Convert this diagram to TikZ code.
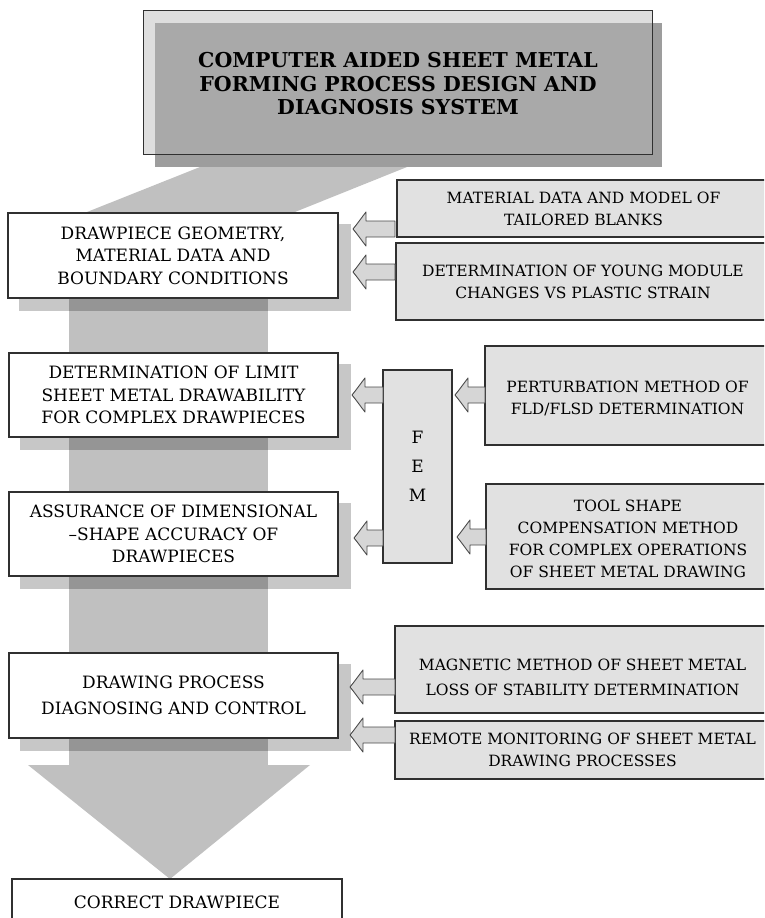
\documentclass[tikz,border=0pt]{standalone}
\usepackage{fontspec}
\setmainfont{DejaVu Serif}
\usetikzlibrary{calc}
\pgfdeclarelayer{back}
\pgfdeclarelayer{shad}
\pgfsetlayers{back,shad,main}
\definecolor{shaftc}{HTML}{C0C0C0}
\definecolor{linec}{HTML}{303030}
\definecolor{rboxc}{HTML}{E1E1E1}
\definecolor{titlelight}{HTML}{DEDEDE}
\definecolor{titleinner}{HTML}{A9A9A9}
\definecolor{titleshad}{HTML}{9D9D9D}
\definecolor{arrowfill}{HTML}{D6D6D6}
\definecolor{arrowline}{HTML}{4A4A4A}
\newcommand\lfnt{\fontsize{17}{22.5}\selectfont}
\newcommand\rfnt{\fontsize{15.5}{22}\selectfont}
\begin{document}
\begin{tikzpicture}[x=1pt,y=-1pt,
  lbox/.style={draw=linec,fill=white,line width=1.2pt,align=center,font=\lfnt,inner sep=0pt},
  rbox/.style={draw=linec,fill=rboxc,line width=1.2pt,align=center,font=\rfnt,inner sep=0pt},
  rtext/.style={align=center,font=\rfnt,inner sep=0pt},
  shadowst/.style={fill=black,opacity=0.22},
  pics/larrow/.style={code={
    \draw[fill=arrowfill,draw=arrowline,line width=0.9pt,line join=round]
      (0,0) .. controls (5,-6) and (9,-12) .. (13,-17) -- (13,-8) -- (#1,-8) -- (#1,8) -- (13,8) -- (13,17)
      .. controls (9,12) and (5,6) .. (0,0) -- cycle;}}]
\useasboundingbox (0,0) rectangle (764,918);
\clip (0,0) rectangle (764,918);

% ---- title block
\node[fill=titlelight,minimum width=508pt,minimum height=143pt,inner sep=0pt] (tb) at (398,82.5) {};
\fill[titleinner] ($(tb.north west)+(11,12)$) rectangle (tb.south east);
\draw[draw=linec,line width=1.2pt] (tb.north west) rectangle (tb.south east);
\node[font=\bfseries\fontsize{20.5}{23.5}\selectfont,align=center] (title) at (398,84)
  {COMPUTER AIDED SHEET METAL\\FORMING PROCESS DESIGN AND\\DIAGNOSIS SYSTEM};

% ---- left boxes
\node[lbox,minimum width=330pt,minimum height=85pt] (b1) at (173,255.5)
  {DRAWPIECE GEOMETRY,\\MATERIAL DATA AND\\BOUNDARY CONDITIONS};
\node[lbox,minimum width=329pt,minimum height=84pt] (b2) at (173.5,395)
  {DETERMINATION OF LIMIT\\SHEET METAL DRAWABILITY\\FOR COMPLEX DRAWPIECES};
\node[lbox,minimum width=329pt,minimum height=84pt] (b3) at (173.5,534)
  {ASSURANCE OF DIMENSIONAL\\--SHAPE ACCURACY OF\\DRAWPIECES};
\node[lbox,font=\fontsize{17}{26.5}\selectfont,minimum width=329pt,minimum height=85pt] (b4) at (173.5,695.5)
  {DRAWING PROCESS\\DIAGNOSING AND CONTROL};
\node[lbox,minimum width=330pt,minimum height=46pt] (b5) at (177,902)
  {CORRECT DRAWPIECE};

% ---- FEM box
\node[rbox,font=\fontsize{17}{29}\selectfont,minimum width=69pt,minimum height=193pt] (fem) at (417.5,466.5)
  {F\\E\\M};

% ---- right boxes
\node[rbox,minimum width=373pt,minimum height=57pt] (r1) at (583.5,208.5)
  {MATERIAL DATA AND MODEL OF\\TAILORED BLANKS};
\node[rbox,minimum width=374pt,minimum height=77pt] (r2) at (583,281.5)
  {DETERMINATION OF YOUNG MODULE\\CHANGES VS PLASTIC STRAIN};
\node[rbox,minimum width=285pt,minimum height=99pt] (r3) at (627.5,395.5) {};
\node[rtext] (r3t) at (627.5,398)
  {PERTURBATION METHOD OF\\FLD/FLSD DETERMINATION};
\node[rbox,minimum width=284pt,minimum height=105pt] (r4) at (628,536.5) {};
\node[rtext,font=\fontsize{15.5}{22.2}\selectfont] (r4t) at (628,539)
  {TOOL SHAPE\\COMPENSATION METHOD\\FOR COMPLEX OPERATIONS\\OF SHEET METAL DRAWING};
\node[rbox,minimum width=375pt,minimum height=87pt] (r5) at (582.5,669.5) {};
\node[rtext,font=\fontsize{15.5}{25}\selectfont] (r5t) at (582.5,677.5)
  {MAGNETIC METHOD OF SHEET METAL\\LOSS OF STABILITY DETERMINATION};
\node[rbox,minimum width=375pt,minimum height=58pt] (r6) at (582.5,750)
  {REMOTE MONITORING OF SHEET METAL\\DRAWING PROCESSES};

% ---- small block arrows (pointing left)
\pic at (353,229) {larrow=42};
\pic at (353,272) {larrow=42};
\pic at (352,395) {larrow=31};
\pic at (455,395) {larrow=30};
\pic at (354,538) {larrow=29};
\pic at (457,537) {larrow=29};
\pic at (350,687) {larrow=45};
\pic at (350,735) {larrow=45};

% ---- background: funnel, shaft, big arrow head
\begin{pgfonlayer}{back}
  \fill[shaftc] (200,167) -- (407,167) -- (290,214) -- (82,214) -- cycle;
  \fill[shaftc] (69,214) rectangle (268,766);
  \fill[shaftc] (28,765) -- (310,765) -- (170,879) -- cycle;
\end{pgfonlayer}

% ---- shadows
\begin{pgfonlayer}{shad}
  \fill[titleshad] ($(tb.north west)+(11,12)$) rectangle ($(tb.south east)+(10,13)$);
  \foreach \b in {b1,b2,b3,b4}{
    \fill[shadowst] ($(\b.north west)+(12,12)$) rectangle ($(\b.south east)+(12,12)$);
  }
\end{pgfonlayer}
\end{tikzpicture}
\end{document}
